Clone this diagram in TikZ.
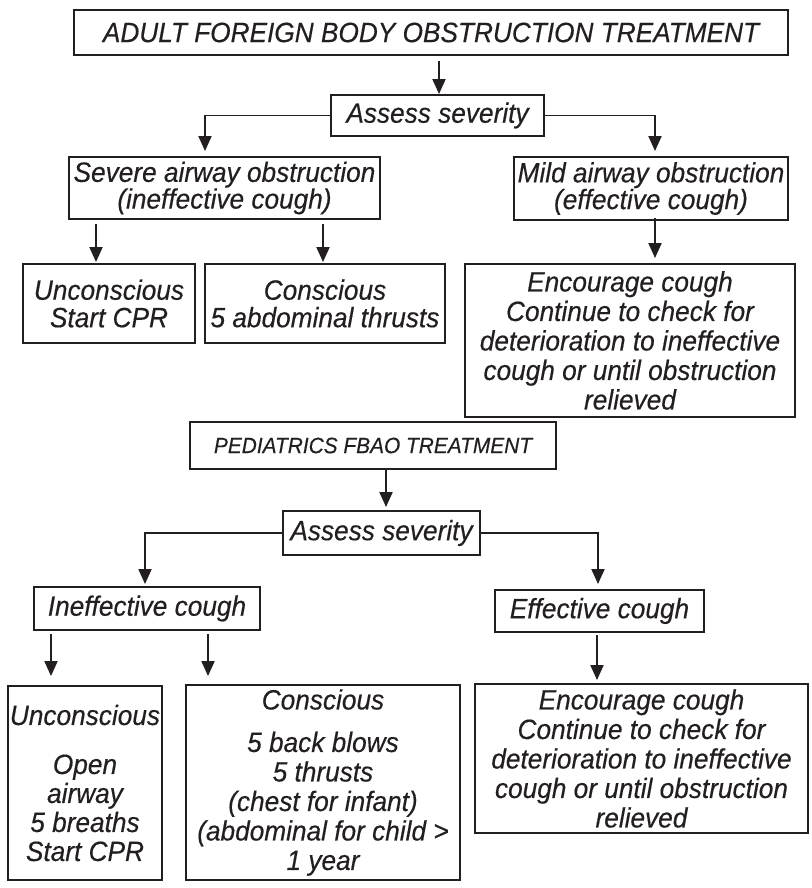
\documentclass[tikz,border=0pt]{standalone}
\usepackage{fontspec}
\usetikzlibrary{arrows.meta}
\newfontfamily\diagfont{Liberation Sans}[FakeStretch=0.94,FakeBold=0.35]
\definecolor{ink}{HTML}{231F20}
% body text with a given line spacing (pt)
\newcommand\bodytxt[1]{\diagfont\itshape\fontsize{27.9pt}{#1pt}\selectfont}
\begin{document}
\begin{tikzpicture}[x=1pt,y=-1pt,
  box/.style={draw=ink, line width=1.9pt, inner sep=0pt, align=center, text=ink,
              font=\bodytxt{28}},
  conn/.style={draw=ink, line width=1.9pt, -{Triangle[width=13pt,length=15pt]}},
]
\useasboundingbox (0,0) rectangle (811,888);

% ---------- adult part ----------
\node[box, minimum width=714pt, minimum height=45pt] (title) at (431,32.5)
  {ADULT FOREIGN BODY OBSTRUCTION TREATMENT};
\node[box, minimum width=213pt, minimum height=41pt] (assessA) at (437.5,115.5)
  {Assess severity};
\node[box, minimum width=311pt, minimum height=62pt, font=\bodytxt{26.7}] (severe) at (224.5,188)
  {Severe airway obstruction\\(ineffective cough)};
\node[box, minimum width=274pt, minimum height=63pt, font=\bodytxt{26.7}] (mild) at (651,188.5)
  {Mild airway obstruction\\(effective cough)};
\node[box, minimum width=172pt, minimum height=79pt, font=\bodytxt{27.5}] (unc1) at (109,303.5)
  {Unconscious\\Start CPR};
\node[box, minimum width=240pt, minimum height=79pt, font=\bodytxt{27.5}] (con1) at (325,303.5)
  {Conscious\\5 abdominal thrusts};
\node[box, minimum width=330pt, minimum height=153pt, font=\bodytxt{29.5}] (enc1) at (630,340.5)
  {Encourage cough\\Continue to check for\\deterioration to ineffective\\cough or until obstruction\\relieved};

% ---------- pediatric part ----------
\node[box, minimum width=366pt, minimum height=47pt,
      font={\diagfont\itshape\fontsize{22.2pt}{25pt}\selectfont}] (ped) at (373,445.5)
  {PEDIATRICS FBAO TREATMENT};
\node[box, minimum width=197pt, minimum height=44pt] (assessB) at (381.5,533)
  {Assess severity};
\node[box, minimum width=226pt, minimum height=43pt] (ineff) at (147,608.5)
  {Ineffective cough};
\node[box, minimum width=209pt, minimum height=42pt] (eff) at (599.5,611)
  {Effective cough};
\node[box, minimum width=154pt, minimum height=194pt, font=\bodytxt{29}] (unc2) at (85,783)
  {Unconscious\\[20pt]Open\\airway\\5 breaths\\Start CPR};
\node[box, minimum width=274pt, minimum height=195pt, font=\bodytxt{29.5}] (con2) at (323,782.5)
  {Conscious\\[13pt]5 back blows\\5 thrusts\\(chest for infant)\\(abdominal for child >\\1 year};
\node[box, minimum width=333pt, minimum height=149pt, font=\bodytxt{29.5}] (enc2) at (641.5,758.5)
  {Encourage cough\\Continue to check for\\deterioration to ineffective\\cough or until obstruction\\relieved};

% ---------- connectors, adult part ----------
\coordinate (tA) at ([xshift=8pt]title.south);
\draw[conn, shorten <=5pt] (tA) -- (tA |- assessA.north);
\draw[conn, shorten >=5pt] (assessA.west) -| ([xshift=-19.5pt]severe.north);
\draw[conn, shorten >=5pt] (assessA.east) -| ([xshift=4pt]mild.north);
\coordinate (sL) at ([xshift=-128.5pt]severe.south);
\coordinate (sR) at ([xshift=98.5pt]severe.south);
\draw[conn, shorten <=4pt, shorten >=1pt] (sL) -- (sL |- unc1.north);
\draw[conn, shorten <=4pt, shorten >=1pt] (sR) -- (sR |- con1.north);
\coordinate (mB) at ([xshift=4pt,yshift=3pt]mild.south);
\draw[conn, shorten >=5pt] (mB) -- (mB |- enc1.north);

% ---------- connectors, pediatric part ----------
\coordinate (pB) at ([xshift=13pt]ped.south);
\draw[conn, shorten >=3pt] (pB) -- (pB |- assessB.north);
\draw[conn, shorten >=2pt] (assessB.west) -| ([xshift=-2pt]ineff.north);
\draw[conn, shorten >=5pt] (assessB.east) -| ([xshift=-1.5pt]eff.north);
\coordinate (iL) at ([xshift=-96pt]ineff.south);
\coordinate (iR) at ([xshift=61pt]ineff.south);
\draw[conn, shorten <=3pt, shorten >=9pt] (iL) -- (iL |- unc2.north);
\draw[conn, shorten <=3pt, shorten >=8pt] (iR) -- (iR |- con2.north);
\coordinate (eB) at ([xshift=-2.5pt]eff.south);
\draw[conn, shorten <=2pt, shorten >=3pt] (eB) -- (eB |- enc2.north);
\end{tikzpicture}
\end{document}
